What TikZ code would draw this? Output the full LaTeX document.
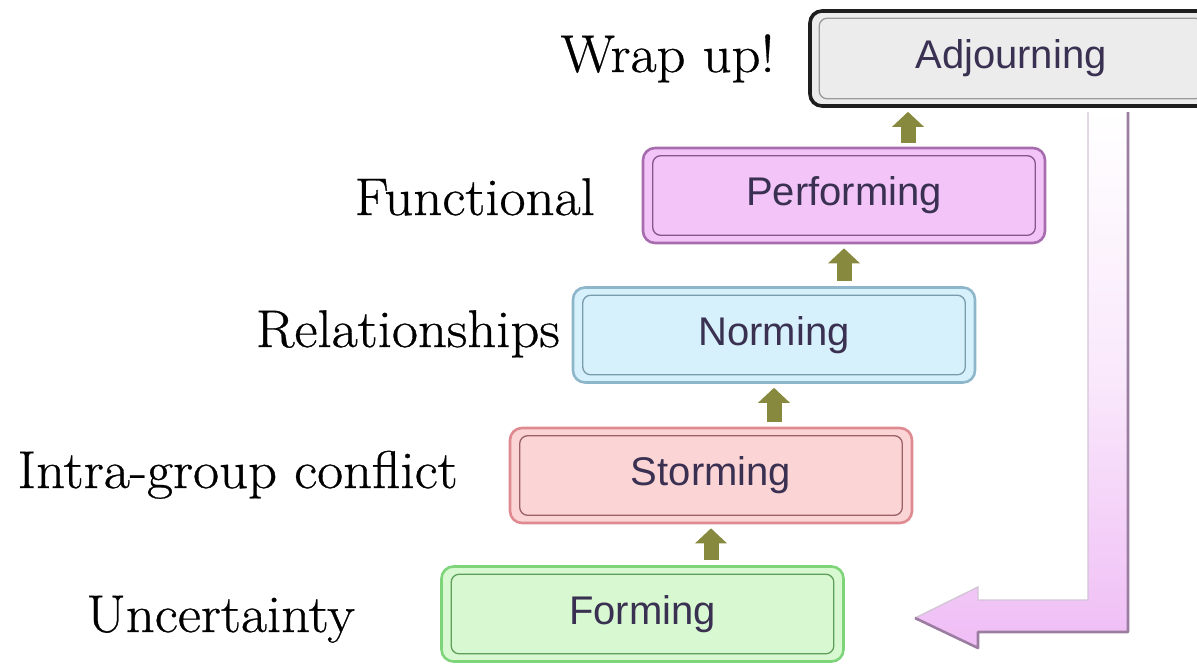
\documentclass[tikz,border=0pt]{standalone}
\usepackage{fontspec}
\setmainfont{Latin Modern Roman}[FakeStretch=1.07, FakeBold=0.6]
\newfontfamily\boxfont{Liberation Sans}
\usetikzlibrary{arrows.meta}

% stage colours
\definecolor{labelink}{HTML}{3A3152}
\definecolor{adjfill}{HTML}{ECECEC}
\definecolor{adjline}{HTML}{1E1E1E}
\definecolor{perffill}{HTML}{F2C4F8}
\definecolor{perfline}{HTML}{A66CAE}
\definecolor{normfill}{HTML}{D6F1FB}
\definecolor{normline}{HTML}{8EB6CA}
\definecolor{stormfill}{HTML}{FBD4D5}
\definecolor{stormline}{HTML}{DE8A90}
\definecolor{formfill}{HTML}{D7F8D0}
\definecolor{formline}{HTML}{7ED479}
\definecolor{liftcol}{HTML}{878A3E}
\definecolor{returnpink}{HTML}{EFBDF5}
\definecolor{returnedge}{HTML}{9C7DA2}

\tikzset{
  stage/.style={rounded corners=12pt, line width=2.6pt, minimum width=402pt,
    minimum height=95pt, inner sep=0pt, text=labelink,
    font=\boxfont\fontsize{40}{48}\selectfont},
  inner rim/.style={rounded corners=8pt, line width=1.3pt},
  tag/.style={inner sep=0pt, anchor=base east, font=\fontsize{53}{62}\selectfont},
  lift/.style={line width=15pt, draw=liftcol, shorten <=5pt, shorten >=4pt,
    -{Triangle[width=31pt,length=15pt]}},
}

\newcommand\rim[2]{%
  \draw[inner rim, #2] ([shift={(11pt,-9pt)}]#1.north west)
    rectangle ([shift={(-11pt,9pt)}]#1.south east);}

\begin{document}
\begin{tikzpicture}[x=1pt,y=-1pt]
\useasboundingbox (0,0) rectangle (1197,665);
\clip (0,0) rectangle (1197,665);

% return arrow from the last stage back to the first
\shade[top color=white, bottom color=returnpink, middle color=returnpink!35]
  (1088,112) -- (1128,112) -- (1128,632) -- (978,632) -- (978,648)
  -- (915,618) -- (978,587) -- (978,600) -- (1088,600) -- cycle;
\draw[line width=1.4pt, draw=returnedge!45]
  (1088,112) -- (1088,600) -- (978,600) -- (978,587) -- (915,618);
\draw[line width=2.6pt, draw=returnedge, line join=round]
  (1128,112) -- (1128,632) -- (978,632) -- (978,648) -- (915,618);

% the five stages
\node[stage, fill=adjfill, draw=adjline, line width=3.6pt] (adjourning) at (1011,58.5) {Adjourning};
\node[stage, fill=perffill, draw=perfline] (performing) at (844,195.5) {Performing};
\node[stage, fill=normfill, draw=normline] (norming) at (774,335) {Norming};
\node[stage, fill=stormfill, draw=stormline] (storming) at (711,475.5) {Storming};
\node[stage, fill=formfill, draw=formline] (forming) at (642.5,614) {Forming};

\rim{adjourning}{draw=adjline!45}
\rim{performing}{draw=perfline!80!black}
\rim{norming}{draw=normline!85!black}
\rim{storming}{draw=stormline!70!black}
\rim{forming}{draw=formline!75!black}

% step arrows between consecutive stages
\draw[lift] (storming.south |- forming.north) -- (storming.south);
\draw[lift] (norming.south |- storming.north) -- (norming.south);
\draw[lift] (performing.south |- norming.north) -- (performing.south);
\draw[lift] (908,148) coordinate (pt) -- (pt |- adjourning.south);

% descriptions
\node[tag] (twrap) at (775,72) {Wrap up!};
\node[tag] (tfunc) at (595,215) {Functional};
\node[tag] (trel) at (560,347) {Relationships};
\node[tag] (tintra) at (458,488) {Intra-group conflict};
\node[tag] (tunc) at (355,632) {Uncertainty};
\end{tikzpicture}
\end{document}
